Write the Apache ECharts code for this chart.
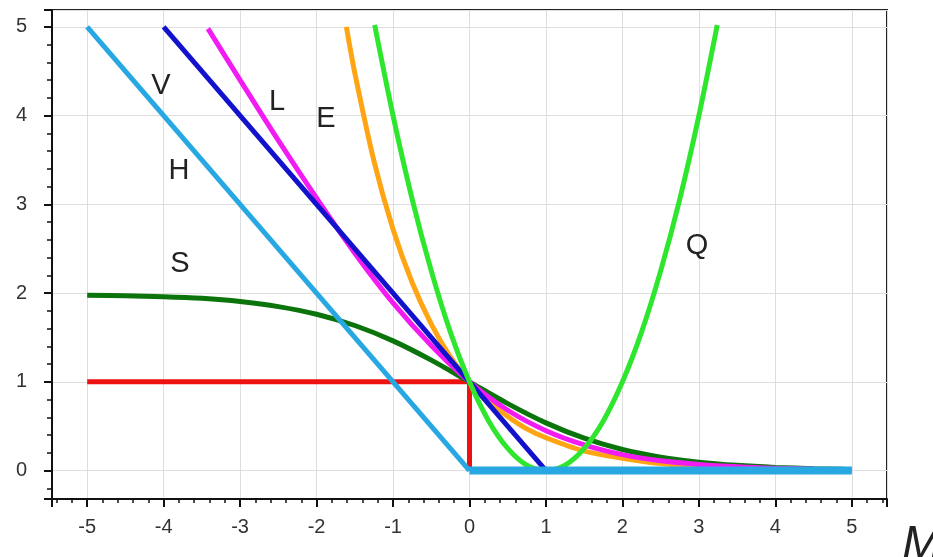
<!DOCTYPE html>
<html><head><meta charset="utf-8">
<script src="https://cdn.jsdelivr.net/npm/echarts@6/dist/echarts.min.js"></script>
<style>html,body{margin:0;padding:0;background:#fff}#c{width:933px;height:557px}</style>
</head><body><div id="c"></div>
<script>
// 0-1 loss (red)
const zeroOneX = [-5, 0, 0];
const zeroOneY = [1, 1, 0];
// H (light blue): sloped part and flat part
const hX = [-5, 0];
const hY = [5, 0];
const hFlatX = [0, 5];
const hFlatY = [0, 0];
// V (blue)
const vX = [-4, 1];
const vY = [5, 0];
// L (magenta)
const lX = [-3.42, -3, -2.5, -2, -1.5, -1, -0.5, 0, 0.5, 1, 1.5, 2, 2.5, 3, 3.5, 4, 4.5, 5];
const lY = [4.98, 4.40, 3.72, 3.07, 2.45, 1.89, 1.41, 1, 0.68, 0.45, 0.29, 0.18, 0.11, 0.07, 0.043, 0.026, 0.016, 0.01];
// E (orange)
const eX = [-1.61, -1.5, -1.25, -1, -0.75, -0.5, -0.25, 0, 0.25, 0.5, 0.75, 1, 1.5, 2, 2.5, 3, 3.5, 4, 4.5, 4.9];
const eY = [5.0, 4.48, 3.49, 2.72, 2.12, 1.65, 1.28, 1, 0.78, 0.61, 0.47, 0.37, 0.22, 0.14, 0.08, 0.05, 0.03, 0.02, 0.011, 0.008];
// Q (bright green)
const qX = [-1.24, -1, -0.75, -0.5, -0.25, 0, 0.25, 0.5, 0.75, 1, 1.25, 1.5, 1.75, 2, 2.25, 2.5, 2.75, 3, 3.24];
const qY = [5.02, 4, 3.06, 2.25, 1.56, 1, 0.56, 0.25, 0.06, 0, 0.06, 0.25, 0.56, 1, 1.56, 2.25, 3.06, 4, 5.02];
// S (dark green)
const sX = [-5, -4.5, -4, -3.5, -3, -2.5, -2, -1.5, -1, -0.5, 0, 0.5, 1, 1.5, 2, 2.5, 3, 3.5, 4, 4.5, 4.9];
const sY = [1.975, 1.97, 1.96, 1.941, 1.905, 1.848, 1.762, 1.635, 1.462, 1.245, 1, 0.755, 0.538, 0.365, 0.238, 0.152, 0.095, 0.059, 0.036, 0.022, 0.015];

const curveLabels = [
  {t: 'V', x: 161, y: 86}, {t: 'L', x: 277, y: 102}, {t: 'E', x: 326, y: 119},
  {t: 'H', x: 179, y: 171}, {t: 'S', x: 180, y: 264}, {t: 'Q', x: 697, y: 246}
];

const zip = (xs, ys) => xs.map((x, i) => [x, ys[i]]);
const mk = (name, xs, ys, color, w, smooth) => ({
  name, type: 'line', data: zip(xs, ys), showSymbol: false, smooth: smooth ? 0.3 : false,
  lineStyle: {color, width: w}, itemStyle: {color}, z: 2, animation: false
});

const font = 'Liberation Sans, Arial, sans-serif';
const chart = echarts.init(document.getElementById('c'));
chart.setOption({
  backgroundColor: '#fff',
  animation: false,
  grid: {left: 52, right: 46, top: 10, bottom: 58, show: true, borderColor: '#222', borderWidth: 2, backgroundColor: 'transparent'},
  xAxis: {
    type: 'value', min: -5.46, max: 5.46, splitNumber: 11,
    axisLine: {show: true, onZero: false, lineStyle: {color: '#111', width: 2}},
    axisTick: {show: true, length: 8, lineStyle: {color: '#111', width: 2}},
    minorTick: {show: true, splitNumber: 5, length: 4, lineStyle: {color: '#111', width: 1.5}},
    splitLine: {show: true, lineStyle: {color: '#dedede', width: 1}},
    axisLabel: {showMinLabel: false, showMaxLabel: false, color: '#333', fontSize: 20, margin: 18, fontFamily: font}
  },
  yAxis: {
    type: 'value', min: -0.32, max: 5.19, splitNumber: 5,
    axisLine: {show: true, onZero: false, lineStyle: {color: '#111', width: 2}},
    axisTick: {show: true, length: 8, lineStyle: {color: '#111', width: 2}},
    minorTick: {show: true, splitNumber: 5, length: 5, lineStyle: {color: '#111', width: 1.5}},
    splitLine: {show: true, lineStyle: {color: '#dedede', width: 1}},
    axisLabel: {showMinLabel: false, showMaxLabel: false, color: '#333', fontSize: 20, margin: 25, fontFamily: font}
  },
  series: [
    mk('0-1', zeroOneX, zeroOneY, '#ee1111', 5, false),
    mk('S', sX, sY, '#0b740b', 5, true),
    mk('E', eX, eY, '#ffa514', 5, true),
    mk('L', lX, lY, '#f21cf2', 5, true),
    mk('V', vX, vY, '#1212cc', 5, false),
    mk('Q', qX, qY, '#2ee62e', 5, true),
    mk('H', hX, hY, '#27a8e2', 5, false),
    mk('H0', hFlatX, hFlatY, '#27a8e2', 8, false)
  ],
  graphic: curveLabels.map(l => ({
    type: 'text', x: l.x, y: l.y, z: 10,
    style: {text: l.t, fontSize: 29, fill: '#222', fontFamily: font, align: 'center', verticalAlign: 'middle'}
  })).concat([{
    type: 'text', left: 902, top: 522, z: 10,
    style: {text: 'M', fontSize: 48, fontStyle: 'italic', fill: '#222', fontFamily: font}
  }])
});
</script></body></html>
